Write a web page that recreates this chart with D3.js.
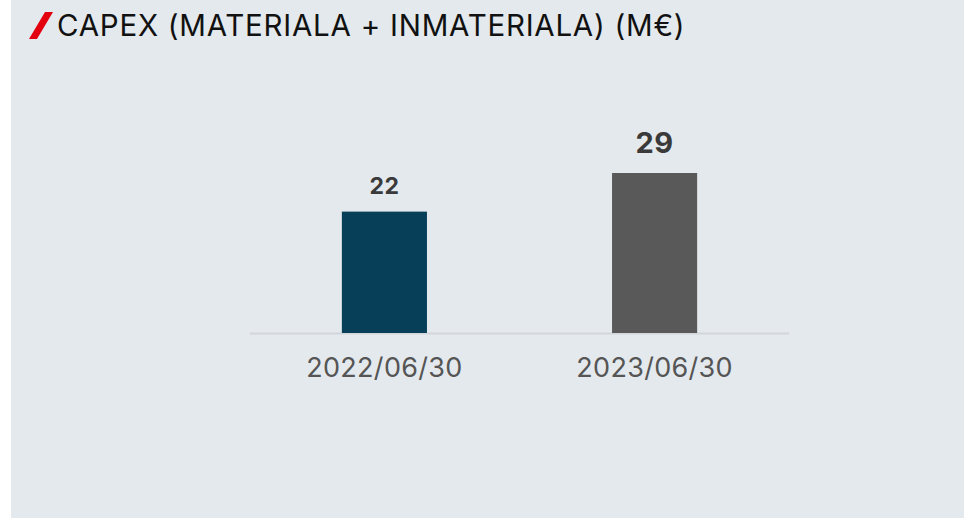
<!DOCTYPE html>
<html><head><meta charset="utf-8">
<script src="https://cdn.jsdelivr.net/npm/d3@7"></script>
<style>
html,body{margin:0;padding:0;background:#fff;}
svg{display:block;}
</style></head>
<body>
<svg id="chart" width="964" height="518"></svg>
<script>
const title = "CAPEX (MATERIALA + INMATERIALA) (M€)";
const categories = ["2022/06/30", "2023/06/30"];
const values = [22, 29];
const barColors = ["#083f58", "#595959"];
const labelSizes = [23, 29];

const svg = d3.select("#chart");
const W = 964, H = 518;
const font = "Inter, 'Noto Sans', sans-serif";

svg.append("rect").attr("x", 11).attr("y", 0).attr("width", W - 11).attr("height", H).attr("fill", "#e4e9ed");

// title slash
svg.append("path").attr("d", "M45,12 L53,12 L37,39 L29,39 Z").attr("fill", "#e3000f");
svg.append("text").attr("x", 57).attr("y", 36).attr("font-family", font).attr("font-size", 29.5)
  .attr("letter-spacing", 0.75).attr("fill", "#111").text(title);

const x = d3.scaleBand().domain(categories).range([250, 789]).paddingInner(0.685).paddingOuter(0.34);
const y = d3.scaleLinear().domain([0, 29]).range([333, 173]);

svg.append("line").attr("x1", 250).attr("x2", 789).attr("y1", 333.5).attr("y2", 333.5)
  .attr("stroke", "#d2d6da").attr("stroke-width", 2);

svg.selectAll("rect.bar").data(values).join("rect").attr("class", "bar")
  .attr("x", (d, i) => x(categories[i])).attr("width", x.bandwidth())
  .attr("y", d => y(d)).attr("height", d => y(0) - y(d))
  .attr("fill", (d, i) => barColors[i]);

svg.selectAll("text.val").data(values).join("text").attr("class", "val")
  .attr("x", (d, i) => x(categories[i]) + x.bandwidth() / 2)
  .attr("y", (d, i) => y(d) - (i === 0 ? 18 : 20))
  .attr("text-anchor", "middle").attr("font-family", font).attr("font-weight", 700)
  .attr("font-size", (d, i) => labelSizes[i]).attr("letter-spacing", 0.5)
  .attr("fill", "#3a3a3a").text(d => d);

const xAxis = d3.axisBottom(x).tickSize(0).tickPadding(0);
const g = svg.append("g").attr("transform", "translate(0,333)").call(xAxis);
g.select(".domain").remove();
g.selectAll("text").attr("font-family", font).attr("font-size", 27).attr("fill", "#555")
  .attr("letter-spacing", 0.3).attr("dy", null).attr("y", 44);
</script>
</body></html>
